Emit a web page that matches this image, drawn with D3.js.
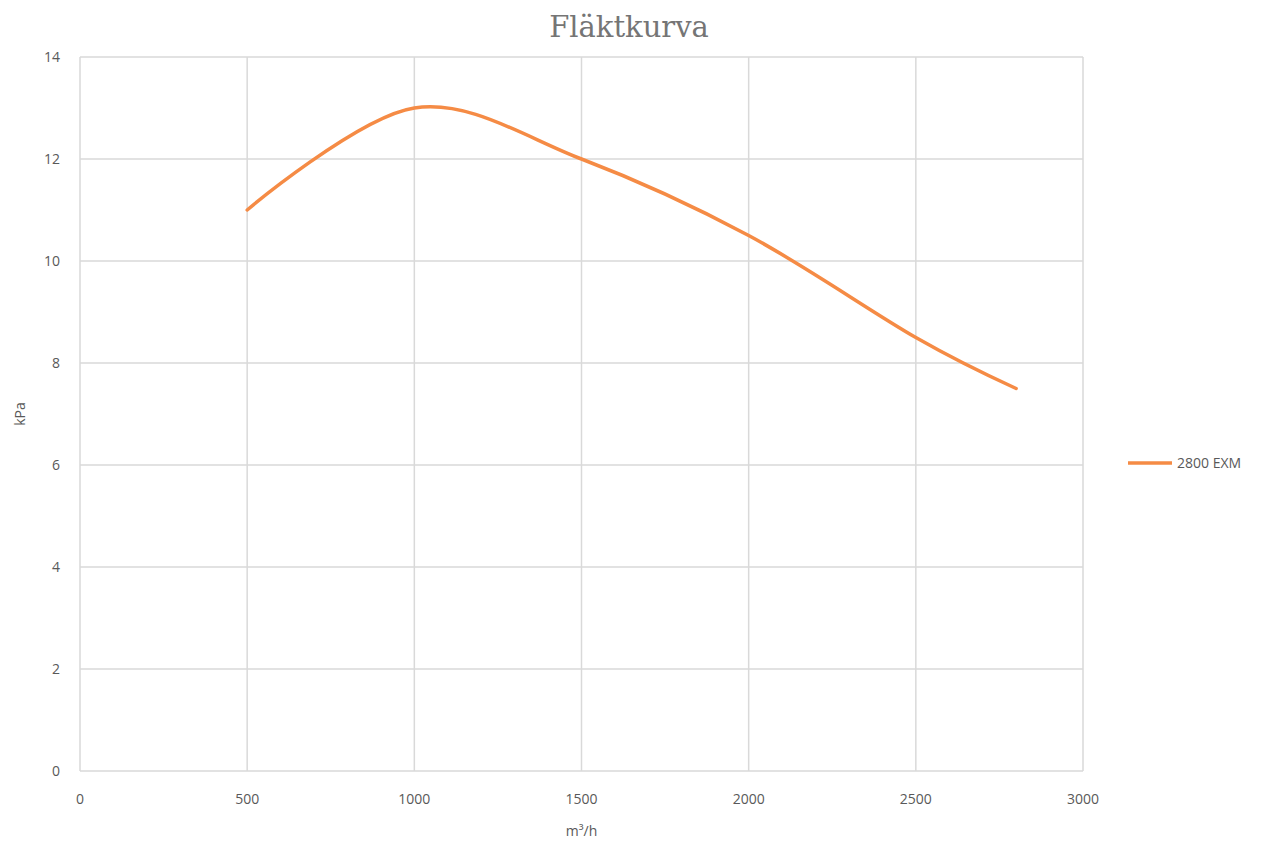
<!DOCTYPE html>
<html>
<head>
<meta charset="utf-8">
<script src="https://cdn.jsdelivr.net/npm/d3@7"></script>
<style>
  body { margin: 0; background: #fff; }
  text { font-family: "Open Sans", sans-serif; fill: #595959; }
</style>
</head>
<body>
<svg width="1271" height="846"></svg>
<script>
// fan curve data
const flow = [500, 1000, 1500, 2000, 2500, 2800];
const pressure = [11, 13, 12, 10.5, 8.5, 7.5];
const seriesName = "2800 EXM";
const xTicks = [0, 500, 1000, 1500, 2000, 2500, 3000];
const yTicks = [0, 2, 4, 6, 8, 10, 12, 14];

const margin = { left: 80, top: 57, right: 1083, bottom: 771 };
const svg = d3.select('svg');

const x = d3.scaleLinear().domain([0, 3000]).range([margin.left, margin.right]);
const y = d3.scaleLinear().domain([0, 14]).range([margin.bottom, margin.top]);

// gridlines
svg.append('g').selectAll('line')
  .data(yTicks).enter().append('line')
  .attr('x1', margin.left).attr('x2', margin.right)
  .attr('y1', d => y(d)).attr('y2', d => y(d))
  .attr('stroke', '#d9d9d9').attr('stroke-width', 1.5);

svg.append('g').selectAll('line')
  .data(xTicks).enter().append('line')
  .attr('x1', d => x(d)).attr('x2', d => x(d))
  .attr('y1', margin.top).attr('y2', margin.bottom)
  .attr('stroke', '#d9d9d9').attr('stroke-width', 1.5);

// tick labels
svg.append('g').selectAll('text')
  .data(yTicks).enter().append('text')
  .attr('x', 60).attr('y', d => y(d) + 5)
  .attr('text-anchor', 'end')
  .style('font-size', '14px')
  .text(d => d);

svg.append('g').selectAll('text')
  .data(xTicks).enter().append('text')
  .attr('x', d => x(d)).attr('y', 804)
  .attr('text-anchor', 'middle')
  .style('font-size', '14px')
  .text(d => d);

// axis titles
svg.append('text')
  .attr('x', (margin.left + margin.right) / 2).attr('y', 836)
  .attr('text-anchor', 'middle')
  .style('font-size', '14px')
  .text('m³/h');

svg.append('text')
  .attr('transform', `translate(25, ${(margin.top + margin.bottom) / 2}) rotate(-90)`)
  .attr('text-anchor', 'middle')
  .style('font-size', '14px')
  .text('kPa');

// title
svg.append('text')
  .attr('x', 629).attr('y', 37)
  .attr('text-anchor', 'middle')
  .style('font-family', '"DejaVu Serif", serif')
  .style('font-size', '29px')
  .style('fill', '#757575')
  .text('Fläktkurva');

// line
const pts = flow.map((f, i) => [f, pressure[i]]);
const line = d3.line()
  .x(d => x(d[0]))
  .y(d => y(d[1]))
  .curve(d3.curveCardinal.tension(0));

svg.append('path')
  .datum(pts)
  .attr('d', line)
  .attr('fill', 'none')
  .attr('stroke', '#f58b45')
  .attr('stroke-width', 3.5)
  .attr('stroke-linecap', 'round');

// legend
svg.append('line')
  .attr('x1', 1128).attr('x2', 1172)
  .attr('y1', 463).attr('y2', 463)
  .attr('stroke', '#f58b45').attr('stroke-width', 3.5);

svg.append('text')
  .attr('x', 1177).attr('y', 468)
  .style('font-size', '14px')
  .text(seriesName);
</script>
</body>
</html>
